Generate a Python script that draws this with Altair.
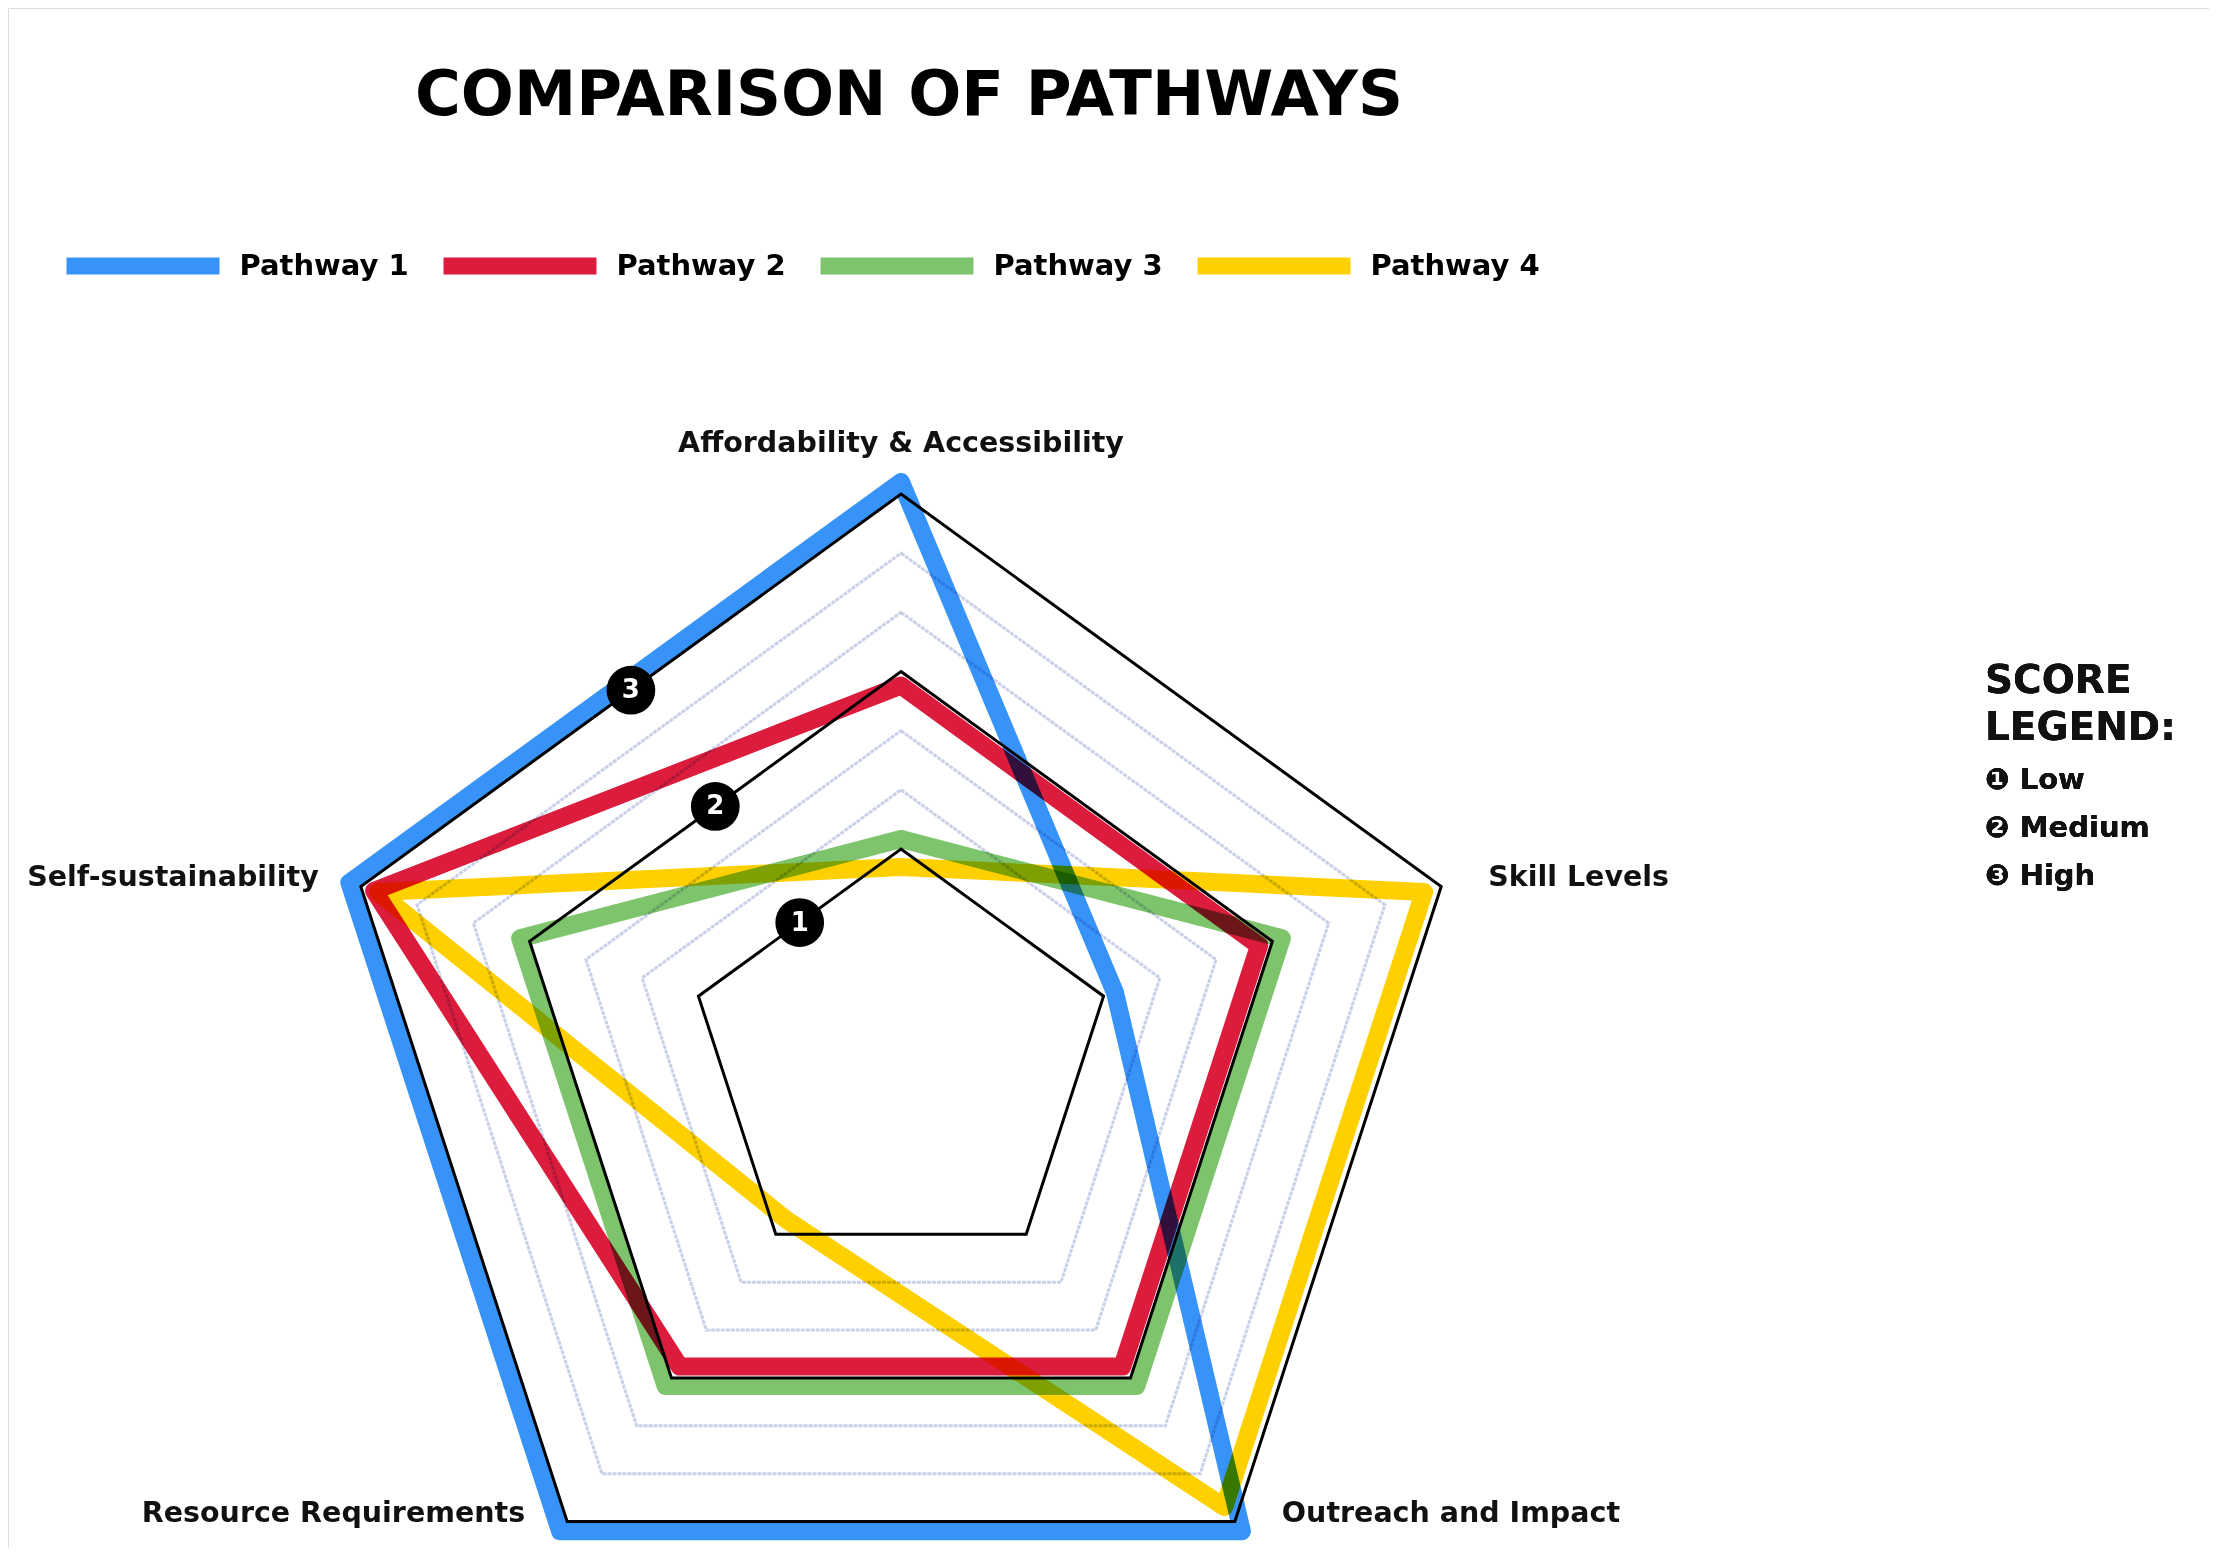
import math
import altair as alt
import pandas as pd

# ---------------- data ----------------
axis_names = ["Affordability & Accessibility", "Skill Levels", "Outreach and Impact",
              "Resource Requirements", "Self-sustainability"]
series_names = ["Pathway 1", "Pathway 2", "Pathway 3", "Pathway 4"]
pathway1 = [3, 1, 3, 3, 3]
pathway2 = [2, 2, 2, 2, 3]
pathway3 = [1, 2, 2, 2, 2]
pathway4 = [1, 3, 3, 1, 3]
score_levels = [1, 2, 3]
score_names = ["Low", "Medium", "High"]
grid_levels = [1, 4 / 3, 5 / 3, 2, 7 / 3, 8 / 3, 3]

# ---------------- styling / layout ----------------
colors = ["#3893F8", "#DC1C3C", "#7EC46C", "#FFD000"]
series_offset_px = [12, -14, 10, -18]   # visual separation of overlapping outlines
FONT = "DejaVu Sans"
W, H = 2201, 1540
CX, CY, R = 893, 1054, 568
VMIN, VMAX = -0.2, 3.0

def radius(v):
    return (v - VMIN) / (VMAX - VMIN)

n = len(axis_names)
angles = [2 * math.pi * i / n for i in range(n)]

xscale = alt.Scale(domain=[(0 - CX) / R, (W - CX) / R], nice=False, zero=False)
yscale = alt.Scale(domain=[(CY - H) / R, CY / R], nice=False, zero=False)

# series outline table
series_values = [pathway1, pathway2, pathway3, pathway4]
rows = []
for s, vals, off in zip(series_names, series_values, series_offset_px):
    for i, v in enumerate(vals):
        r = radius(v) + off / R
        rows.append({"series": s, "axis": axis_names[i], "score": v, "idx": i,
                     "x": r * math.sin(angles[i]), "y": r * math.cos(angles[i])})
df_series = pd.DataFrame(rows)

# grid table
grows = []
for k, lv in enumerate(grid_levels):
    major = abs(lv - round(lv)) < 1e-9
    for i in range(n):
        r = radius(lv)
        grows.append({"level": k, "kind": "major" if major else "minor", "idx": i,
                      "x": r * math.sin(angles[i]), "y": r * math.cos(angles[i])})
df_grid = pd.DataFrame(grows)

# axis label table
lrows = []
for i, name in enumerate(axis_names):
    sx, cy = math.sin(angles[i]), math.cos(angles[i])
    if abs(sx) < 0.1:
        lrows.append({"label": name, "align": "center", "x": 0.0, "y": cy + 51 / R})
    elif sx > 0:
        lrows.append({"label": name, "align": "left", "x": sx + 47 / R, "y": cy + 9 / R})
    else:
        lrows.append({"label": name, "align": "right", "x": sx - 42 / R, "y": cy + 9 / R})
df_labels = pd.DataFrame(lrows)

# score badges on the upper-left edge of each main ring
a0, a1 = angles[0], angles[-1]
brows = []
for lv in score_levels:
    r = radius(lv)
    brows.append({"score": str(lv),
                  "x": r * (math.sin(a0) + math.sin(a1)) / 2,
                  "y": r * (math.cos(a0) + math.cos(a1)) / 2})
df_badges = pd.DataFrame(brows)

X = lambda: alt.X("x:Q", scale=xscale, axis=None)
Y = lambda: alt.Y("y:Q", scale=yscale, axis=None)

grid_minor = alt.Chart(df_grid).transform_filter(alt.datum.kind == "minor").mark_line(
    interpolate="linear-closed", stroke="#C9D0E8", strokeWidth=3, strokeDash=[4, 1]
).encode(x=X(), y=Y(), detail="level:N", order="idx:Q")

grid_major = alt.Chart(df_grid).transform_filter(alt.datum.kind == "major").mark_line(
    interpolate="linear-closed", stroke="black", strokeWidth=3, strokeJoin="miter"
).encode(x=X(), y=Y(), detail="level:N", order="idx:Q")

lines = alt.Chart(df_series).mark_line(
    interpolate="linear-closed", strokeWidth=18, strokeJoin="round", strokeCap="round",
    blend="multiply", opacity=1
).encode(
    x=X(), y=Y(), order="idx:Q",
    color=alt.Color("series:N", scale=alt.Scale(domain=series_names, range=colors),
                    legend=alt.Legend(orient="none", legendX=50, legendY=173,
                                      direction="horizontal", title=None,
                                      symbolType="stroke", symbolSize=153 * 153,
                                      symbolStrokeWidth=17, symbolOpacity=1,
                                      labelFont=FONT, labelFontSize=29,
                                      labelFontWeight="bold", labelColor="black",
                                      labelLimit=400, labelOffset=11.5, columnPadding=0)),
    tooltip=["series:N", "axis:N", "score:Q"],
)

label_layers = []
for al in ["center", "left", "right"]:
    label_layers.append(
        alt.Chart(df_labels).transform_filter(alt.datum.align == al).mark_text(
            align=al, baseline="middle", font=FONT, fontSize=28.5, fontWeight="bold",
            color="#111111"
        ).encode(x=X(), y=Y(), text="label:N")
    )

badges = alt.Chart(df_badges).mark_circle(size=2376, color="black", opacity=1).encode(x=X(), y=Y())
badge_text = alt.Chart(df_badges).mark_text(
    font=FONT, fontSize=26, fontWeight="bold", color="white", baseline="middle", align="center"
).encode(x=X(), y=Y(), text="score:N")

score_title = alt.Chart(df_badges).mark_text(
    align="left", baseline="middle", font=FONT, fontSize=39, fontWeight="bold",
    color="#111111", lineHeight=47
).encode(x=alt.value(1977), y=alt.value(673), text=alt.value(["SCORE", "LEGEND:"]))

score_items = alt.Chart(df_badges).mark_text(
    align="left", baseline="middle", font=FONT, fontSize=29, fontWeight="bold",
    color="#111111", lineHeight=48
).encode(x=alt.value(1977), y=alt.value(772),
         text=alt.value([chr(0x2775 + lv) + " " + nm for lv, nm in zip(score_levels, score_names)]))

chart = alt.layer(
    grid_minor, grid_major, lines, *label_layers, badges, badge_text, score_title, score_items
).properties(
    width=W, height=H,
    autosize=alt.AutoSizeParams(type="none"),
    padding=0,
    title=alt.TitleParams("COMPARISON OF PATHWAYS", font=FONT, fontSize=62.5, fontWeight="bold",
                          color="black", anchor="middle", frame="group", dx=-199.5, dy=124),
).configure_view(stroke=None).configure(background="white")

chart.save("out.html", embed_options={"renderer": "svg", "actions": False})
